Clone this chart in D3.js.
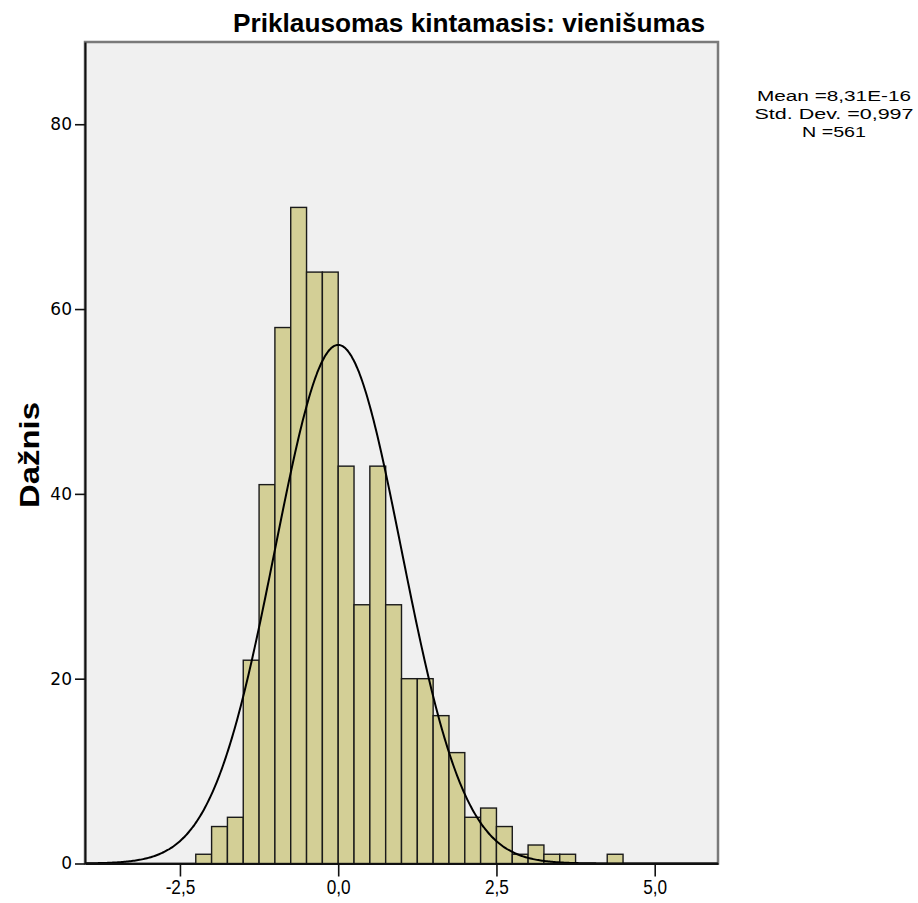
<!DOCTYPE html>
<html>
<head>
<meta charset="utf-8">
<script src="https://cdn.jsdelivr.net/npm/d3@7"></script>
<style>
  html, body { margin: 0; padding: 0; background: #ffffff; }
  svg { display: block; }
</style>
</head>
<body>
<svg id="chart" width="918" height="903"></svg>
<script>
// ---- data ----
const binStart = -2.25;
const binWidth = 0.25;
const counts = [1, 4, 5, 22, 41, 58, 71, 64, 64, 43, 28, 43, 28, 20, 20, 16, 12, 5, 6, 4, 1, 2, 1, 1, 0, 0, 1];
const xTicks = [-2.5, 0.0, 2.5, 5.0];
const xTickLabels = ["-2,5", "0,0", "2,5", "5,0"];
const yTicks = [0, 20, 40, 60, 80];
const yTickLabels = ["0", "20", "40", "60", "80"];
const statMean = 8.31e-16;
const statSD = 0.997;
const statN = 561;
const statsLines = ["Mean =8,31E-16", "Std. Dev. =0,997", "N =561"];
const titleText = "Priklausomas kintamasis: vienišumas";
const yLabelText = "Dažnis";

// ---- layout ----
const plotL = 85, plotR = 718, plotT = 42, plotB = 863.5;
const svg = d3.select("#chart");

const x = d3.scaleLinear().domain([-4.0, 6.0]).range([plotL, plotR]);
const y = d3.scaleLinear().domain([0, 88.9]).range([plotB, plotT]);

// plot background
svg.append("rect")
  .attr("x", plotL).attr("y", plotT)
  .attr("width", plotR - plotL).attr("height", plotB - plotT)
  .attr("fill", "#f0f0f0")
  .attr("stroke", "#7a7a7a").attr("stroke-width", 2.5);

// bars
const bins = counts.map((c, i) => ({ x0: binStart + i * binWidth, x1: binStart + (i + 1) * binWidth, n: c }));
svg.append("g").selectAll("rect")
  .data(bins.filter(d => d.n > 0))
  .join("rect")
  .attr("x", d => x(d.x0))
  .attr("y", d => y(d.n))
  .attr("width", d => x(d.x1) - x(d.x0))
  .attr("height", d => y(0) - y(d.n))
  .attr("fill", "#d3cf96")
  .attr("stroke", "#1a1a1a")
  .attr("stroke-width", 1.4);

// normal curve from stated statistics
const pdf = v => Math.exp(-0.5 * Math.pow((v - statMean) / statSD, 2)) / (statSD * Math.sqrt(2 * Math.PI));
const curvePts = d3.range(-4.0, 6.0001, 0.02).map(v => [v, statN * binWidth * pdf(v)]);
svg.append("path")
  .datum(curvePts)
  .attr("fill", "none")
  .attr("stroke", "#000")
  .attr("stroke-width", 2)
  .attr("d", d3.line().x(d => x(d[0])).y(d => y(d[1])).curve(d3.curveBasis));

// x axis
const xAxis = d3.axisBottom(x)
  .tickValues(xTicks)
  .tickFormat((d, i) => xTickLabels[i])
  .tickSizeInner(13).tickSizeOuter(0).tickPadding(3);
const gx = svg.append("g").attr("transform", `translate(0,${plotB})`).call(xAxis);
gx.select(".domain").attr("stroke", "#111").attr("stroke-width", 2);
gx.selectAll(".tick line").attr("stroke", "#111").attr("stroke-width", 1.6);
gx.selectAll(".tick text")
  .attr("font-family", "'Liberation Sans', Arial, sans-serif")
  .attr("font-size", 20).attr("fill", "#000")
  .each(function () {
    const w = this.getComputedTextLength();
    d3.select(this).attr("textLength", w * 0.86).attr("lengthAdjust", "spacingAndGlyphs");
  });

// y axis
const yAxis = d3.axisLeft(y)
  .tickValues(yTicks)
  .tickFormat((d, i) => yTickLabels[i])
  .tickSizeInner(10).tickSizeOuter(0).tickPadding(3);
const gy = svg.append("g").attr("transform", `translate(${plotL},0)`).call(yAxis);
gy.select(".domain").attr("stroke", "#111").attr("stroke-width", 2);
gy.selectAll(".tick line").attr("stroke", "#111").attr("stroke-width", 1.6);
gy.selectAll(".tick text")
  .attr("font-family", "'DejaVu Sans', Verdana, sans-serif")
  .attr("font-size", 17).attr("fill", "#000");

// title
svg.append("text")
  .attr("x", 469).attr("y", 32)
  .attr("text-anchor", "middle")
  .attr("font-family", "'Liberation Sans', Arial, sans-serif")
  .attr("font-weight", "bold")
  .attr("font-size", 25)
  .attr("textLength", 472).attr("lengthAdjust", "spacingAndGlyphs")
  .text(titleText);

// y label
svg.append("text")
  .attr("transform", "translate(39,455) rotate(-90)")
  .attr("text-anchor", "middle")
  .attr("font-family", "'Liberation Sans', Arial, sans-serif")
  .attr("font-weight", "bold")
  .attr("font-size", 27)
  .attr("textLength", 106).attr("lengthAdjust", "spacingAndGlyphs")
  .text(yLabelText);

// stats box text
const statWidths = [154, 159, 64];
svg.append("g").selectAll("text")
  .data(statsLines)
  .join("text")
  .attr("x", 834)
  .attr("y", (d, i) => 101 + i * 18)
  .attr("text-anchor", "middle")
  .attr("font-family", "'Liberation Sans', Arial, sans-serif")
  .attr("font-size", 15.5)
  .attr("fill", "#000")
  .attr("textLength", (d, i) => statWidths[i])
  .attr("lengthAdjust", "spacingAndGlyphs")
  .text(d => d);
</script>
</body>
</html>
